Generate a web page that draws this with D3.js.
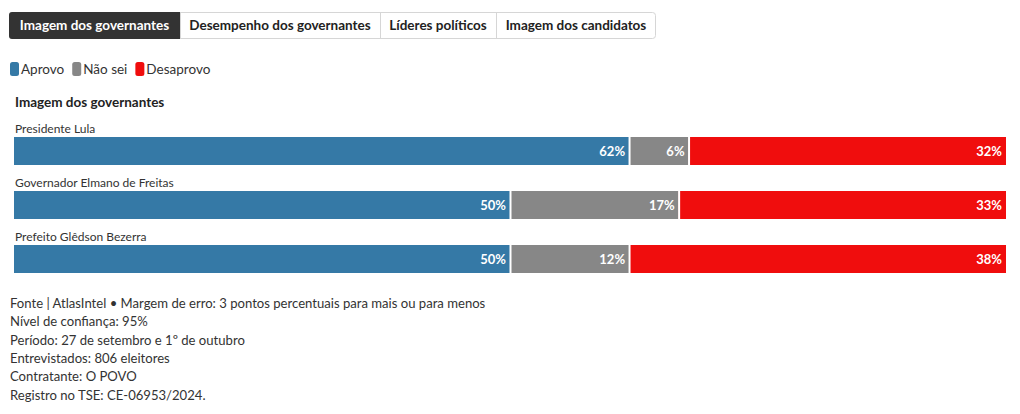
<!DOCTYPE html>
<html><head><meta charset="utf-8">
<script src="https://cdn.jsdelivr.net/npm/d3@7"></script>
<style>
html,body{margin:0;padding:0;background:#fff;}
svg{display:block;font-family:Lato, "Noto Sans", sans-serif;}
</style></head>
<body>
<svg id="c" width="1020" height="414"></svg>
<script>
const tabs = ["Imagem dos governantes","Desempenho dos governantes","Líderes políticos","Imagem dos candidatos"];
const series = ["Aprovo","Não sei","Desaprovo"];
const colors = ["#3579a6","#878787","#f00d0d"];
const categories = ["Presidente Lula","Governador Elmano de Freitas","Prefeito Glêdson Bezerra"];
const aprovo = [62,50,50];
const naoSei = [6,17,12];
const desaprovo = [32,33,38];
const title = "Imagem dos governantes";
const footer = [
 "Fonte | AtlasIntel • Margem de erro: 3 pontos percentuais para mais ou para menos",
 "Nível de confiança: 95%",
 "Período: 27 de setembro e 1º de outubro",
 "Entrevistados: 806 eleitores",
 "Contratante: O POVO",
 "Registro no TSE: CE-06953/2024."
];

const svg = d3.select("#c");

// Tabs
const tabBounds = [9,180,380,496,656];
const tg = svg.append("g");
tg.append("rect").attr("x",9.5).attr("y",12.5).attr("width",646).attr("height",26)
  .attr("rx",3).attr("fill","#fff").attr("stroke","#d6d6d6");
tabs.forEach((t,i)=>{
  const x0=tabBounds[i], x1=tabBounds[i+1];
  if(i===0){
    tg.append("path").attr("d",`M${x0+3},12 H${x1} V39 H${x0+3} Q${x0},39 ${x0},36 V15 Q${x0},12 ${x0+3},12 Z`).attr("fill","#333");
  } else {
    tg.append("line").attr("x1",x0+0.5).attr("x2",x0+0.5).attr("y1",13).attr("y2",38).attr("stroke","#d6d6d6");
  }
  tg.append("text").attr("x",(x0+x1)/2).attr("y",30).attr("text-anchor","middle")
    .attr("font-size",13.5).attr("font-weight","bold").attr("fill",i===0?"#fff":"#222").text(t);
});

// Legend
const lg = svg.append("g");
let lx = 10;
series.forEach((s,i)=>{
  lg.append("rect").attr("x",lx).attr("y",62).attr("width",9).attr("height",14).attr("rx",2.5).attr("fill",colors[i]);
  const tx = lg.append("text").attr("x",lx+11).attr("y",74).attr("font-size",13.5).attr("fill","#333").text(s);
  lx += 11 + tx.node().getComputedTextLength() + 8;
});

// Title
svg.append("text").attr("x",15).attr("y",107).attr("font-size",13.5).attr("font-weight","bold").attr("fill","#222").text(title);

// Bars
const x = d3.scaleLinear().domain([0,100]).range([14,1006]);
const y = d3.scaleBand().domain(categories).range([124,286]).paddingInner(0).paddingOuter(0);
const rows = categories.map((c,i)=>({cat:c, vals:[aprovo[i],naoSei[i],desaprovo[i]]}));
const bg = svg.append("g");
rows.forEach(r=>{
  const y0 = y(r.cat);
  bg.append("text").attr("x",15).attr("y",y0+9).attr("font-size",12).attr("fill","#333").text(r.cat);
  let acc = 0;
  r.vals.forEach((v,j)=>{
    const xa = x(acc), xb = x(acc+v);
    bg.append("rect").attr("x",xa).attr("y",y0+13).attr("width",xb-xa).attr("height",28).attr("fill",colors[j]);
    if(j>0) bg.append("rect").attr("x",xa-0.5).attr("y",y0+13).attr("width",2).attr("height",28).attr("fill","#fff");
    bg.append("text").attr("x",xb-4).attr("y",y0+32).attr("text-anchor","end").attr("font-size",13)
      .attr("font-weight","bold").attr("fill","#fff").text(v+"%");
    acc += v;
  });
});

// Footer
const fg = svg.append("g");
footer.forEach((f,i)=>{
  fg.append("text").attr("x",10).attr("y",308+i*18.3).attr("font-size",13.1).attr("fill","#333").text(f);
});
</script>
</body></html>
